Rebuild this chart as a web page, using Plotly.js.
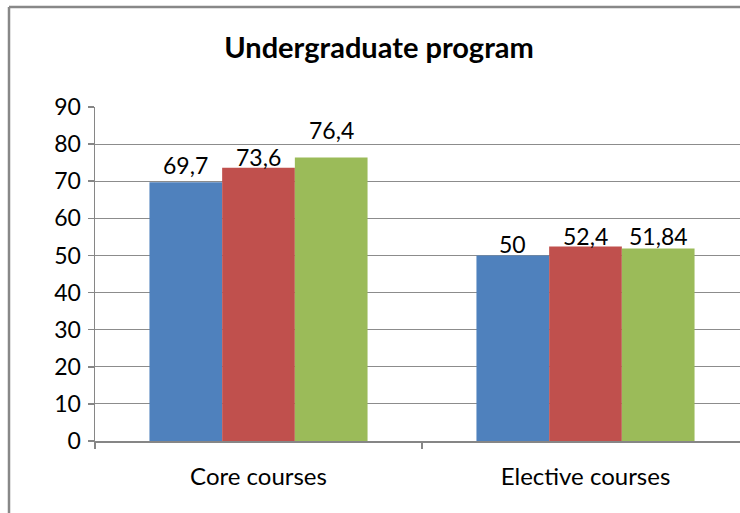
<!DOCTYPE html>
<html>
<head>
<meta charset="utf-8">
<script src="https://cdn.plot.ly/plotly-3.0.1.min.js"></script>
<style>
html,body{margin:0;padding:0;background:#fff;overflow:hidden;}
#chart{width:740px;height:513px;}
</style>
</head>
<body>
<div id="chart"></div>
<script>
const categories = ["Core courses", "Elective courses"];
const series1 = [69.7, 50];
const series2 = [73.6, 52.4];
const series3 = [76.4, 51.84];
const seriesNames = ["Series 1", "Series 2", "Series 3"];
const colors = ["#4F81BD", "#C0504D", "#9BBB59"];
const yTicks = [0, 10, 20, 30, 40, 50, 60, 70, 80, 90];

const fmt = v => String(v).replace('.', ',');
const font = "Lato, 'Open Sans', sans-serif";

// label offsets above bar tops (px), style only
const labelLift = [[17, 11], [11, 11], [27, 13]];

const allSeries = [series1, series2, series3];
const traces = allSeries.map((vals, i) => ({
  type: 'bar',
  x: categories,
  y: vals,
  name: seriesNames[i],
  marker: {color: colors[i], line: {width: 0}},
  hoverinfo: 'x+y'
}));

const L = 95, T = 107, B = 72, W = 740, H = 513;
const pw = W - L, ph = H - T - B;
const barPx = 327 * (1 - 0.333) / 3;

const annotations = [];
allSeries.forEach((vals, i) => {
  vals.forEach((v, j) => {
    annotations.push({
      x: categories[j], y: v, xref: 'x', yref: 'y',
      text: fmt(v), showarrow: false,
      xshift: (i - 1) * barPx, yshift: labelLift[i][j],
      yanchor: 'middle', xanchor: 'center',
      font: {family: font, size: 23, color: '#000'}
    });
  });
});

const layout = {
  width: W, height: H,
  margin: {l: L, r: 0, t: T, b: B, pad: 0},
  paper_bgcolor: '#fff', plot_bgcolor: '#fff',
  showlegend: false,
  barmode: 'group',
  bargap: 0.333,
  bargroupgap: 0,
  title: {text: '<b>Undergraduate program</b>', font: {family: font, size: 29, color: '#000'},
          x: 379 / W, xref: 'container', xanchor: 'center', y: 1 - 48 / H, yref: 'container', yanchor: 'middle'},
  xaxis: {
    type: 'category',
    range: [-0.5, -0.5 + pw / 327],
    showgrid: false,
    showline: true, linecolor: '#868686', linewidth: 1.5,
    ticks: 'outside', tickson: 'boundaries', ticklen: 6, tickcolor: '#868686', tickwidth: 1.5,
    tickfont: {family: font, size: 24, color: '#000'},
    ticklabelstandoff: 14,
    zeroline: false, fixedrange: true
  },
  yaxis: {
    range: [0, 90],
    tickvals: yTicks,
    showgrid: true, gridcolor: '#8c8c8c', gridwidth: 1.2,
    showline: true, linecolor: '#868686', linewidth: 1.5,
    ticks: 'outside', ticklen: 6, tickcolor: '#868686', tickwidth: 1.5,
    tickfont: {family: font, size: 23, color: '#000'},
    ticklabelstandoff: 2,
    zeroline: false, fixedrange: true
  },
  annotations: annotations,
  shapes: [
    {type: 'line', xref: 'paper', yref: 'paper', x0: (9 - L) / pw, x1: (9 - L) / pw,
     y0: (H - T - B - (H + 10 - T)) / ph, y1: (H - B - 7) / ph, line: {color: '#888', width: 2.5}},
    {type: 'line', xref: 'paper', yref: 'paper', x0: (9 - L) / pw, x1: (W + 10 - L) / pw,
     y0: (H - B - 7) / ph, y1: (H - B - 7) / ph, line: {color: '#888', width: 2.5}}
  ]
};

Plotly.newPlot('chart', traces, layout, {displayModeBar: false, staticPlot: true});
</script>
</body>
</html>
